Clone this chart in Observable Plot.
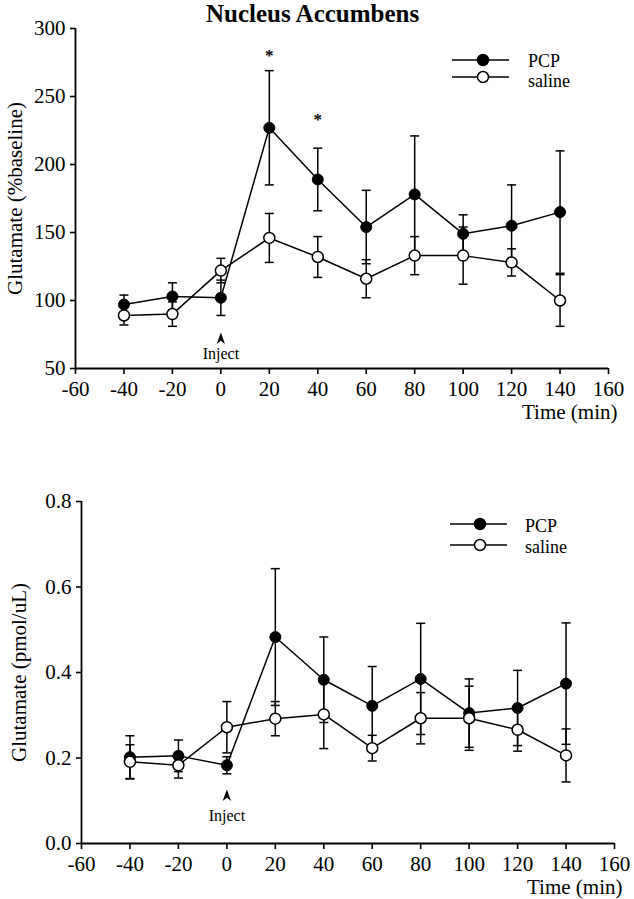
<!DOCTYPE html>
<html>
<head>
<meta charset="utf-8">
<script src="https://cdn.jsdelivr.net/npm/d3@7"></script>
<script src="https://cdn.jsdelivr.net/npm/@observablehq/plot@0.6"></script>
<style>
  html, body { margin: 0; padding: 0; background: white; }
  #wrap { position: relative; width: 634px; height: 899px; }
  #title { height: 14px; position: relative; }
  #title span { position: absolute; left: 206px; top: 0px; font: bold 25px 'Liberation Serif', 'Times New Roman', serif; line-height: normal; white-space: nowrap; color: black; }
  #c1, #c2 { display: block; }
  #c1 svg, #c2 svg { display: block; }
  #legend { position: absolute; left: 0; top: 0; pointer-events: none; }
</style>
</head>
<body>
<div id="wrap">
  <div id="title"><span>Nucleus Accumbens</span></div>
  <div id="c1"></div>
  <div id="c2"></div>
</div>
<script>
// ---------- data ----------
const times = [-40, -20, 0, 20, 40, 60, 80, 100, 120, 140];
const xTicks = [-60, -40, -20, 0, 20, 40, 60, 80, 100, 120, 140, 160];
const seriesNames = ["PCP", "saline"];

// top panel: % baseline
const pcpPct     = [97, 103, 102, 227, 189, 154, 178, 149, 155, 165];
const pcpPctErr  = [7, 10, 13, 42, 23, 27, 43, 14, 30, 45];
const salPct     = [89, 90, 122, 146, 132, 116, 133, 133, 128, 100];
const salPctErr  = [7, 9, 9, 18, 15, 14, 14, 21, 10, 19];
const pctTicks   = [50, 100, 150, 200, 250, 300];
const sigTimes   = [20, 40];

// bottom panel: pmol/uL
const pcpPmol    = [0.202, 0.205, 0.183, 0.483, 0.383, 0.322, 0.385, 0.305, 0.317, 0.374];
const pcpPmolErr = [0.05, 0.037, 0.02, 0.16, 0.10, 0.092, 0.13, 0.08, 0.088, 0.142];
const salPmol    = [0.191, 0.183, 0.272, 0.292, 0.302, 0.223, 0.293, 0.293, 0.266, 0.206];
const salPmolErr = [0.04, 0.03, 0.06, 0.04, 0.08, 0.03, 0.06, 0.075, 0.05, 0.062];
const pmolTicks  = [0, 0.2, 0.4, 0.6, 0.8];

const injectTimes = [0];
const xLabel = "Time (min)";
const yLabelTop = "Glutamate (%baseline)";
const yLabelBottom = "Glutamate (pmol/uL)";
const injectLabel = "Inject";

// ---------- helpers ----------
const FONT = "'Liberation Serif', 'Times New Roman', serif";
const capSymbol = { draw(ctx) { ctx.moveTo(-4.5, 0); ctx.lineTo(4.5, 0); } };
const arrowSymbol = { draw(ctx) { ctx.moveTo(0, -6); ctx.lineTo(4.2, 5.5); ctx.lineTo(0, 2.2); ctx.lineTo(-4.2, 5.5); ctx.closePath(); } };
const hyphenInt = d => String(d);               // plain hyphen minus, as in the reference
const oneDecimal = d => d.toFixed(1);

function rows(name, v, e) { return times.map((t, i) => ({series: name, t, v: v[i], e: e[i]})); }

function panel(o) {
  const pcp = rows(seriesNames[0], o.pcp, o.pcpErr);
  const sal = rows(seriesNames[1], o.sal, o.salErr);
  const all = pcp.concat(sal);
  const marks = [
    Plot.ruleX([-60], {strokeWidth: 1.8}),
    Plot.ruleY([o.yDomain[0]], {strokeWidth: 1.8}),
    Plot.axisX({ticks: xTicks, tickSize: 6, tickPadding: 7, tickFormat: hyphenInt, label: null, strokeWidth: 1.6}),
    Plot.axisY({ticks: o.yTicks, tickSize: 5, tickPadding: 5, tickFormat: o.yFormat, label: null, strokeWidth: 1.6}),
    Plot.text([xLabel], {frameAnchor: "bottom-right", textAnchor: "end", lineAnchor: "middle", dx: o.xLabelDx, dy: o.xLabelDy}),
    Plot.text([o.yLabel], {frameAnchor: "left", textAnchor: "middle", lineAnchor: "middle", rotate: -90, dx: o.yLabelDx}),
    Plot.line(pcp, {x: "t", y: "v", stroke: "black", strokeWidth: 1.5}),
    Plot.line(sal, {x: "t", y: "v", stroke: "black", strokeWidth: 1.5}),
    Plot.ruleX(all, {x: "t", y1: d => d.v - d.e, y2: d => d.v + d.e, stroke: "black", strokeWidth: 1.5}),
    Plot.dot(all, {x: "t", y: d => d.v + d.e, symbol: capSymbol, r: 4.5, fill: "none", stroke: "black", strokeWidth: 1.5}),
    Plot.dot(all, {x: "t", y: d => d.v - d.e, symbol: capSymbol, r: 4.5, fill: "none", stroke: "black", strokeWidth: 1.5}),
    Plot.dot(pcp, {x: "t", y: "v", r: 5.5, fill: "black", stroke: "black", strokeWidth: 1}),
    Plot.dot(sal, {x: "t", y: "v", r: 5.5, fill: "white", stroke: "black", strokeWidth: 1.5}),
    Plot.dot(injectTimes, {x: d => d, frameAnchor: "bottom", dy: o.arrowDy, symbol: arrowSymbol, r: 5, fill: "black", stroke: "none"}),
    Plot.text(injectTimes, {x: d => d, frameAnchor: "bottom", lineAnchor: "middle", textAnchor: "middle", dy: o.injectDy, text: () => injectLabel, fontSize: 16})
  ];
  if (o.stars) {
    o.stars.forEach(([t, dy]) => {
      marks.push(Plot.text(pcp.filter(d => d.t === t), {x: "t", y: d => d.v + d.e, text: () => "*", fontWeight: "bold", fontSize: 17, lineAnchor: "middle", dy}));
    });
  }
  return Plot.plot({
    width: 634,
    height: o.height,
    marginTop: o.marginTop,
    marginBottom: 50,
    marginLeft: o.marginLeft,
    marginRight: o.marginRight,
    x: {domain: [-60, 160]},
    y: {domain: o.yDomain},
    style: {fontFamily: FONT, fontSize: "21px", background: "transparent", overflow: "visible", color: "black"},
    marks
  });
}

document.getElementById("c1").append(panel({
  pcp: pcpPct, pcpErr: pcpPctErr, sal: salPct, salErr: salPctErr,
  yDomain: [50, 300], yTicks: pctTicks, yFormat: hyphenInt, yLabel: yLabelTop,
  marginTop: 14, height: 404, marginLeft: 75, marginRight: 26,
  xLabelDx: 9, xLabelDy: 44, yLabelDx: -60, arrowDy: -30, injectDy: -15,
  stars: [[sigTimes[0], -15.5], [sigTimes[1], -28.5]]
}));

document.getElementById("c2").append(panel({
  pcp: pcpPmol, pcpErr: pcpPmolErr, sal: salPmol, salErr: salPmolErr,
  yDomain: [0, 0.8], yTicks: pmolTicks, yFormat: oneDecimal, yLabel: yLabelBottom,
  marginTop: 83, height: 475, marginLeft: 81, marginRight: 20,
  xLabelDx: 8, xLabelDy: 44, yLabelDx: -62, arrowDy: -48, injectDy: -28
}));

// ---------- legends ----------
const leg = d3.select("#wrap").append("svg").attr("id", "legend").attr("width", 634).attr("height", 899);
function legend(x0, x1, cx, tx, ys, bases) {
  seriesNames.forEach((name, i) => {
    leg.append("line").attr("x1", x0).attr("x2", x1).attr("y1", ys[i]).attr("y2", ys[i]).attr("stroke", "black").attr("stroke-width", 1.5);
    leg.append("circle").attr("cx", cx).attr("cy", ys[i]).attr("r", 5.5)
      .attr("fill", i === 0 ? "black" : "white").attr("stroke", "black").attr("stroke-width", 1.5);
    leg.append("text").attr("x", tx).attr("y", bases[i]).text(name)
      .attr("font-family", FONT).attr("font-size", 18).attr("fill", "black");
  });
}
legend(452, 509, 483, 528, [60, 77], [67, 87]);
legend(450, 507, 480, 525, [524, 545], [532, 553]);
</script>
</body>
</html>
